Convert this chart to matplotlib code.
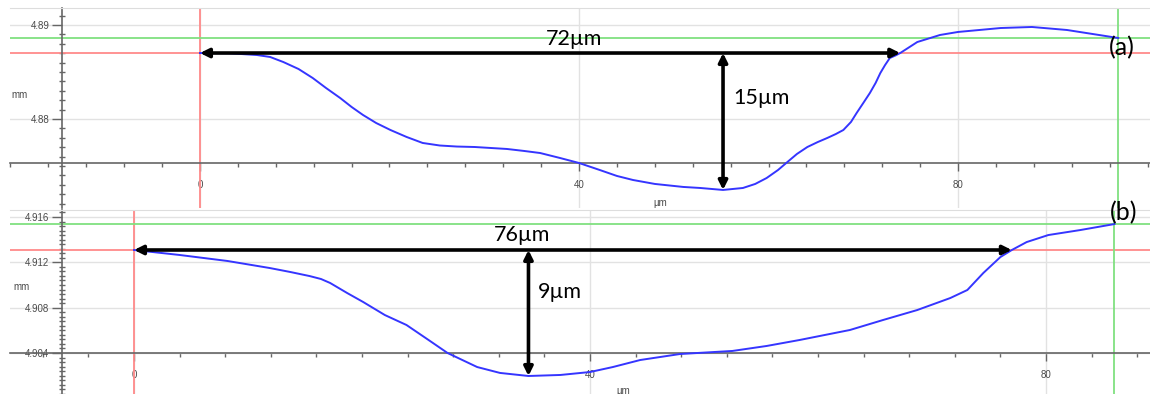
#Import necessary libraries
import numpy as np
import matplotlib
matplotlib.use('Agg')
import matplotlib.pyplot as plt
from matplotlib.ticker import MultipleLocator, FormatStrFormatter

# profile (a): position [um] - height [mm]
xa = [0, 3.0, 6.0, 7.4, 8.8, 10.4, 11.9, 13.3, 14.8, 16.0, 17.2, 18.6, 20.1,
      21.8, 23.5, 25.3, 27.1, 29.0, 32.4, 34.2, 35.9, 38.0, 40.0, 42.2, 44.0,
      45.7, 48.0, 51.0, 52.8, 55.2, 57.3, 58.6, 59.8, 61.0, 62.0, 63.0, 64.1,
      65.2, 66.2, 67.1, 67.9, 68.7, 69.3, 70.0, 70.7, 71.3, 71.8, 72.3, 72.8,
      73.4, 73.9, 75.7, 78.1, 80.0, 84.5, 87.8, 91.5, 96.9]
ya = [4.88702, 4.88700, 4.88681, 4.88660, 4.88606, 4.88532, 4.88436, 4.88330,
      4.88223, 4.88128, 4.88043, 4.87957, 4.87883, 4.87809, 4.87745, 4.87718,
      4.87707, 4.87702, 4.87681, 4.87660, 4.87638, 4.87585, 4.87532, 4.87457,
      4.87394, 4.87351, 4.87309, 4.87277, 4.87266, 4.87245, 4.87266, 4.87309,
      4.87372, 4.87457, 4.87543, 4.87628, 4.87702, 4.87755, 4.87798, 4.87840,
      4.87883, 4.87968, 4.88064, 4.88170, 4.88277, 4.88383, 4.88489, 4.88574,
      4.88649, 4.88676, 4.88702, 4.88819, 4.88894, 4.88926, 4.88968, 4.88979,
      4.88947, 4.88862]

# profile (b)
xb = [0, 4.0, 8.2, 11.9, 13.7, 15.4, 16.4, 17.2, 18.7, 20.1, 22.0, 23.9, 25.7,
      27.5, 30.1, 32.1, 34.6, 37.4, 40.0, 42.0, 44.4, 47.9, 52.5, 55.5, 58.4,
      62.8, 65.7, 68.7, 71.6, 73.1, 74.5, 76.0, 77.0, 78.3, 80.2, 83.0, 86.0]
yb = [4.91309, 4.91265, 4.91212, 4.91150, 4.91115, 4.91079, 4.91053, 4.91018,
      4.90929, 4.90850, 4.90735, 4.90647, 4.90524, 4.90400, 4.90276, 4.90224,
      4.90197, 4.90206, 4.90232, 4.90276, 4.90338, 4.90391, 4.90418, 4.90462,
      4.90515, 4.90603, 4.90691, 4.90779, 4.90885, 4.90956, 4.91106, 4.91247,
      4.91309, 4.91379, 4.91441, 4.91485, 4.91538]

# cursor positions (red = reference, green = second cursor)
red_a, green_a, greenx_a = 4.88702, 4.88862, 96.9
red_b, green_b, greenx_b = 4.91309, 4.91538, 86.0

labels_a = ['72\u00b5m', '15\u00b5m', '(a)']
labels_b = ['76\u00b5m', '9\u00b5m', '(b)']

W, H = 1150, 394
fig = plt.figure(figsize=(W/100, H/100), dpi=100)

ax1 = fig.add_axes([10/W, (H-208)/H, 1140/W, 200/H])
ax2 = fig.add_axes([10/W, 0, 1140/W, 184/H])

txtfont = ['Lato', 'DejaVu Sans']
tickfont = 'Liberation Sans'


def style_axes(ax, xlim, ylim, yspine, xspine, ymaj, ymin, yfmt):
    ax.set_xlim(*xlim)
    ax.set_ylim(*ylim)
    ax.spines['right'].set_visible(False)
    ax.spines['top'].set_color('#dddddd')
    ax.spines['left'].set_position(('data', yspine))
    ax.spines['bottom'].set_position(('data', xspine))
    for s in ['left', 'bottom']:
        ax.spines[s].set_color('#666666')
        ax.spines[s].set_linewidth(1.2)
    ax.xaxis.set_major_locator(MultipleLocator(40))
    ax.xaxis.set_minor_locator(MultipleLocator(4))
    ax.yaxis.set_major_locator(MultipleLocator(ymaj))
    ax.yaxis.set_minor_locator(MultipleLocator(ymin))
    ax.yaxis.set_major_formatter(FormatStrFormatter(yfmt))
    ax.tick_params(axis='x', which='major', direction='out', length=6, width=1,
                   color='#666666', labelsize=7, labelcolor='#4a4a4a', pad=6)
    ax.tick_params(axis='x', which='minor', direction='out', length=3, width=1,
                   color='#666666')
    ax.tick_params(axis='y', which='major', direction='out', length=7, width=1,
                   color='#666666', labelsize=7, labelcolor='#4a4a4a', pad=2)
    ax.tick_params(axis='y', which='minor', direction='inout', length=4, width=1,
                   color='#666666')
    for lab in ax.get_xticklabels() + ax.get_yticklabels():
        lab.set_family(tickfont)
    ax.grid(which='major', color='#e2e2e2', lw=1, zorder=0)
    ax.set_xlabel('\u00b5m', fontsize=7, color='#4a4a4a', family=tickfont)
    ax.set_ylabel('mm', fontsize=7, color='#4a4a4a', family=tickfont, rotation=0)


style_axes(ax1, (-20.05, 100.26), (4.87053, 4.89181), -14.56, 4.87532, 0.01, 0.001, '%.2f')
style_axes(ax2, (-10.88, 89.12), (4.90038, 4.91662), -6.32, 4.904, 0.004, 0.0004, '%.3f')
ax1.xaxis.set_label_coords(0.570, 0.05)
ax1.yaxis.set_label_coords(0.008, 0.54)
ax2.xaxis.set_label_coords(0.538, 0.045)
ax2.yaxis.set_label_coords(0.010, 0.554)


def draw_profile(ax, x, y, red, green, greenx, labels, wlab, dlab):
    x = np.array(x)
    y = np.array(y)
    ax.axhline(red, color='#ff8a8a', lw=1.3, zorder=2)
    ax.axvline(x[0], color='#ff8a8a', lw=1.3, zorder=2)
    ax.axhline(green, color='#80e080', lw=1.3, zorder=2)
    ax.axvline(greenx, color='#80e080', lw=1.3, zorder=2)
    ax.plot(x, y, color='#3535ff', lw=1.4, zorder=3, solid_joinstyle='round')

    imin = np.argmin(y)
    imax = np.argmax(y)
    xend = np.interp(red, y[imin:imax+1], x[imin:imax+1])
    arrow = dict(arrowstyle='<|-|>', color='black', lw=2.6, mutation_scale=13,
                 shrinkA=0, shrinkB=0)
    ax.annotate('', xy=(xend, red), xytext=(x[0], red), arrowprops=arrow, zorder=5)
    ax.annotate('', xy=(x[imin], y[imin]), xytext=(x[imin], red), arrowprops=arrow, zorder=5)
    ax.text(wlab[0], wlab[1], labels[0], fontsize=15.5, family=txtfont,
            ha='center', va='center', zorder=6)
    ax.text(dlab[0], dlab[1], labels[1], fontsize=15.5, family=txtfont,
            ha='left', va='center', zorder=6)


draw_profile(ax1, xa, ya, red_a, green_a, greenx_a, labels_a, (39.5, 4.88850), (56.3, 4.88223))
draw_profile(ax2, xb, yb, red_b, green_b, greenx_b, labels_b, (34.0, 4.91441), (35.4, 4.90938))

fig.text(1122/W, 1-48/H, labels_a[2], fontsize=18, family=txtfont, ha='center', va='center')
fig.text(1124/W, 1-213/H, labels_b[2], fontsize=18, family=txtfont, ha='center', va='center')

plt.savefig('out.png', dpi=100)
